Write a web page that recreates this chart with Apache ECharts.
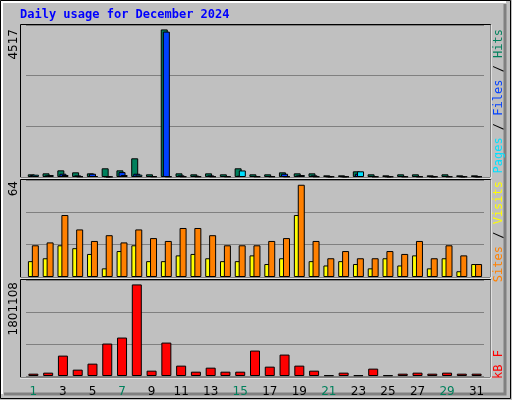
<!DOCTYPE html>
<html><head><meta charset="utf-8">
<script src="https://cdn.jsdelivr.net/npm/echarts@6/dist/echarts.min.js"></script>
<style>html,body{margin:0;padding:0;background:#fff}#c{width:512px;height:400px}</style>
</head><body><div id="c"></div>
<script>
const days = ['1','2','3','4','5','6','7','8','9','10','11','12','13','14','15','16','17','18','19','20','21','22','23','24','25','26','27','28','29','30','31'];
const weekend = ['1','7','8','14','15','21','22','28','29'];
const hits  = [82,112,204,143,112,266,204,572,82,4517,112,82,112,82,266,82,82,143,112,112,51,51,174,82,51,82,82,51,82,51,51];
const files = [60,50,100,50,100,20,150,100,30,4450,50,40,50,30,40,30,30,100,50,50,20,20,100,30,20,30,30,20,30,20,20];
const pages = [70,60,60,20,30,10,60,70,20,20,20,20,20,20,200,20,20,20,60,20,15,15,174,15,15,15,15,15,15,15,15];
const sites = [11,13,22,20,16,6,18,22,11,11,15,16,13,11,11,15,9,13,43,11,8,11,9,6,13,8,15,6,13,4,9];
const visits= [22,24,43,33,25,29,24,33,27,25,34,34,29,22,22,22,25,27,64,25,13,18,13,13,18,16,25,13,22,15,9];
const kbytes= [46000,66000,401000,125000,243000,638000,756000,1801108,105000,657000,204000,85000,164000,85000,85000,500000,184000,421000,204000,105000,15000,66000,15000,145000,15000,46000,66000,46000,66000,46000,46000];
const labels = {hits:'4517', visits:'64', kb:'1801108'};

const chart = echarts.init(document.getElementById('c'));
const font = 'DejaVu Sans Mono';
const grids = [
  {left:26,right:28,top:25,height:152},
  {left:26,right:28,top:180,height:97},
  {left:26,right:28,top:280,height:96}
];
const maxes = [4652, 67.3, 1888000];
const bs = {borderColor:'#000',borderWidth:1};
function ya(i){return {gridIndex:i,min:0,max:maxes[i],interval:maxes[i]/3,axisLabel:{show:false},axisTick:{show:false},axisLine:{show:false},splitLine:{lineStyle:{color:'#808080',width:1}}};}
function xa(i){return {gridIndex:i,type:'category',data:days,axisTick:{show:false},axisLine:{show:false},
  axisLabel:{show:i===2,margin:10,fontFamily:'DejaVu Sans',fontSize:12,color:(v)=>weekend.includes(v)?'#00805c':'#000'}};}
function rtext(x,y,txt,color){return {type:'text',x:x,y:y,rotation:Math.PI/2,style:{text:txt,fill:color,font:'12px '+font,align:'right',verticalAlign:'middle'}};}
chart.setOption({
  animation:false,
  backgroundColor:'#c0c0c0',
  grid:grids,
  xAxis:[xa(0),xa(1),xa(2)],
  yAxis:[ya(0),ya(1),ya(2)],
  series:[
    {type:'bar',xAxisIndex:0,yAxisIndex:0,data:hits,barWidth:7,barGap:'-70%',itemStyle:Object.assign({color:'#00805c'},bs)},
    {type:'bar',xAxisIndex:0,yAxisIndex:0,data:files,barWidth:7,barGap:'-70%',itemStyle:Object.assign({color:'#0040ff'},bs)},
    {type:'bar',xAxisIndex:0,yAxisIndex:0,data:pages,barWidth:7,barGap:'-70%',itemStyle:Object.assign({color:'#00e0ff'},bs)},
    {type:'bar',xAxisIndex:1,yAxisIndex:1,data:sites,barWidth:6,barGap:'-35%',itemStyle:Object.assign({color:'#ffff00'},bs)},
    {type:'bar',xAxisIndex:1,yAxisIndex:1,data:visits,barWidth:7,barGap:'-35%',itemStyle:Object.assign({color:'#ff8000'},bs)},
    {type:'bar',xAxisIndex:2,yAxisIndex:2,data:kbytes,barWidth:10,itemStyle:Object.assign({color:'#ff0000'},bs)}
  ],
  graphic:[
    {type:'rect',shape:{x:0.5,y:0.5,width:510,height:398},style:{fill:'none',stroke:'#000',lineWidth:1}},
    {type:'polyline',shape:{points:[[505,4],[505,394],[4,394]]},style:{stroke:'#808080',lineWidth:3,fill:'none'}},
    {type:'polyline',shape:{points:[[2,394],[2,2],[506,2]]},style:{stroke:'#ffffff',lineWidth:2,fill:'none'}},
    {type:'rect',shape:{x:20.5,y:24.5,width:470,height:153},style:{fill:'none',stroke:'#000',lineWidth:1}},
    {type:'rect',shape:{x:20.5,y:179.5,width:470,height:98},style:{fill:'none',stroke:'#000',lineWidth:1}},
    {type:'rect',shape:{x:20.5,y:279.5,width:470,height:98},style:{fill:'none',stroke:'#000',lineWidth:1}},
    {type:'polyline',shape:{points:[[491,25],[491,178],[20,178]]},style:{stroke:'#fff',lineWidth:1,fill:'none'}},
    {type:'polyline',shape:{points:[[491,180],[491,278],[20,278]]},style:{stroke:'#fff',lineWidth:1,fill:'none'}},
    {type:'polyline',shape:{points:[[491,280],[491,378],[20,378]]},style:{stroke:'#fff',lineWidth:1,fill:'none'}},
    {type:'text',x:20,y:9,style:{text:'Daily usage for December 2024',fill:'#0000ff',font:'bold 12px '+font}},
    {type:'text',x:14,y:29,rotation:Math.PI/2,style:{text:labels.hits,fill:'#000',font:'12px DejaVu Sans',align:'right',verticalAlign:'middle'}},
    {type:'text',x:14,y:181,rotation:Math.PI/2,style:{text:labels.visits,fill:'#000',font:'12px DejaVu Sans',align:'right',verticalAlign:'middle'}},
    {type:'text',x:14,y:282,rotation:Math.PI/2,style:{text:labels.kb,fill:'#000',font:'12px DejaVu Sans',align:'right',verticalAlign:'middle'}},
    {type:'text',x:499,y:29,rotation:Math.PI/2,style:{align:'right',verticalAlign:'middle',font:'12px '+font,
      rich:{p:{fill:'#00e0ff',font:'12px '+font},f:{fill:'#0040ff',font:'12px '+font},h:{fill:'#00805c',font:'12px '+font},s:{fill:'#000',font:'12px '+font}},
      text:'{p|Pages}{s| / }{f|Files}{s| / }{h|Hits}'}},
    {type:'text',x:499,y:181,rotation:Math.PI/2,style:{align:'right',verticalAlign:'middle',font:'12px '+font,
      rich:{a:{fill:'#ff8000',font:'12px '+font},b:{fill:'#ffff00',font:'12px '+font},s:{fill:'#000',font:'12px '+font}},
      text:'{a|Sites}{s| / }{b|Visits}'}},
    {type:'text',x:499,y:350,rotation:Math.PI/2,style:{text:'kB F',fill:'#ff0000',font:'12px '+font,align:'right',verticalAlign:'middle'}}
  ]
});
</script></body></html>
